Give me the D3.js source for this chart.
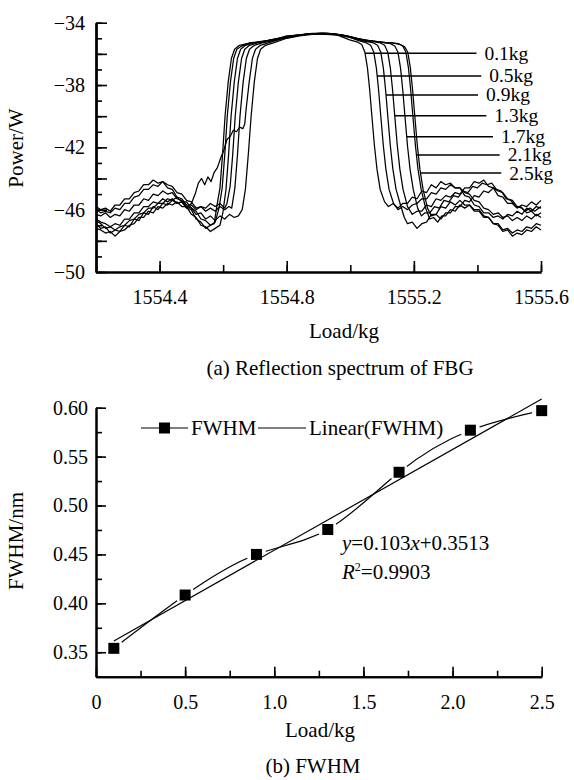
<!DOCTYPE html>
<html>
<head>
<meta charset="utf-8">
<script src="https://cdn.jsdelivr.net/npm/d3@7"></script>
<style>
    body { margin: 0; background: #fff; }
    svg text { font-family: "Liberation Serif", "Times New Roman", serif; fill: #000; }
</style>
</head>
<body>
<svg id="chart" width="574" height="780"></svg>
<script>
// ---- data: (a) reflection spectra, [wavelength nm, power] ----
const loads = ["0.1kg", "0.5kg", "0.9kg", "1.3kg", "1.7kg", "2.1kg", "2.5kg"];

const spec01 = [[1554.200,-46.9],[1554.215,-47.2],[1554.230,-47.1],[1554.245,-47.5],[1554.260,-47.3],[1554.275,-47.4],[1554.290,-47.0],[1554.305,-47.1],[1554.320,-46.6],[1554.335,-46.7],[1554.350,-46.2],[1554.365,-46.3],[1554.380,-45.8],[1554.395,-46.0],[1554.410,-45.6],[1554.425,-45.7],[1554.440,-45.4],[1554.455,-45.6],[1554.470,-45.5],[1554.485,-45.9],[1554.500,-46.0],[1554.515,-46.6],[1554.530,-46.8],[1554.545,-47.2],[1554.560,-47.0],[1554.572,-46.9],
    [1554.580,-45.8],[1554.590,-44.6],[1554.598,-42.5],[1554.606,-40.0],[1554.616,-37.8],[1554.626,-36.3],[1554.636,-35.7],[1554.651,-35.45],[1554.676,-35.35],
    [1554.72,-35.25],[1554.76,-35.05],[1554.80,-34.9],[1554.84,-34.78],[1554.88,-34.7],[1554.92,-34.72],[1554.96,-34.8],
    [1554.998,-35.1],[1555.023,-35.25],[1555.036,-35.4],[1555.046,-35.9],[1555.054,-36.9],[1555.061,-38.3],[1555.068,-40.0],[1555.076,-41.9],[1555.084,-43.4],[1555.094,-44.7],[1555.108,-45.5],
    [1555.120,-45.8],[1555.135,-45.6],[1555.150,-45.9],[1555.165,-45.6],[1555.180,-45.6],[1555.195,-45.2],[1555.210,-45.3],[1555.225,-44.8],[1555.240,-44.9],[1555.255,-44.4],[1555.270,-44.6],[1555.285,-44.2],[1555.300,-44.4],[1555.315,-44.3],[1555.330,-44.6],[1555.345,-44.6],[1555.360,-45.1],[1555.375,-45.2],[1555.390,-45.7],[1555.405,-45.8],[1555.420,-46.2],[1555.435,-46.2],[1555.450,-46.5],[1555.465,-46.4],[1555.480,-46.6],[1555.495,-46.3],[1555.510,-46.4],[1555.525,-46.1],[1555.540,-46.3],[1555.555,-45.9],[1555.570,-46.1],[1555.585,-45.8],[1555.600,-45.9]];

const spec05 = [[1554.200,-46.7],[1554.215,-46.9],[1554.230,-47.2],[1554.245,-47.1],[1554.260,-47.3],[1554.275,-47.1],[1554.290,-47.0],[1554.305,-46.7],[1554.320,-46.6],[1554.335,-46.3],[1554.350,-46.2],[1554.365,-45.9],[1554.380,-45.9],[1554.395,-45.6],[1554.410,-45.6],[1554.425,-45.3],[1554.440,-45.4],[1554.455,-45.2],[1554.470,-45.5],[1554.485,-45.5],[1554.500,-45.9],[1554.515,-46.1],[1554.530,-46.6],[1554.545,-46.7],[1554.560,-47.0],[1554.575,-46.8],
    [1554.587,-45.9],[1554.597,-44.6],[1554.605,-42.5],[1554.613,-40.0],[1554.623,-37.8],[1554.633,-36.3],[1554.643,-35.7],[1554.658,-35.5],[1554.683,-35.3],
    [1554.72,-35.2],[1554.76,-35.1],[1554.80,-34.85],[1554.84,-34.8],[1554.88,-34.68],[1554.92,-34.75],[1554.96,-34.78],[1555.00,-34.95],
    [1555.026,-35.15],[1555.051,-35.3],[1555.064,-35.45],[1555.074,-35.9],[1555.082,-36.9],[1555.089,-38.3],[1555.096,-40.0],[1555.104,-41.9],[1555.112,-43.4],[1555.122,-44.7],[1555.136,-45.6],
    [1555.150,-46.0],[1555.165,-45.8],[1555.180,-46.0],[1555.195,-45.7],[1555.210,-45.6],[1555.225,-45.3],[1555.240,-45.3],[1555.255,-44.9],[1555.270,-45.0],[1555.285,-44.6],[1555.300,-44.7],[1555.315,-44.4],[1555.330,-44.6],[1555.345,-44.6],[1555.360,-44.9],[1555.375,-45.0],[1555.390,-45.4],[1555.405,-45.5],[1555.420,-45.9],[1555.435,-46.0],[1555.450,-46.3],[1555.465,-46.2],[1555.480,-46.5],[1555.495,-46.4],[1555.510,-46.7],[1555.525,-46.5],[1555.540,-46.7],[1555.555,-46.4],[1555.570,-46.6],[1555.585,-46.3],[1555.600,-46.5]];

const spec09 = [[1554.200,-47.2],[1554.215,-47.3],[1554.230,-47.5],[1554.245,-47.4],[1554.260,-47.7],[1554.275,-47.4],[1554.290,-47.3],[1554.305,-47.0],[1554.320,-46.9],[1554.335,-46.5],[1554.350,-46.5],[1554.365,-46.1],[1554.380,-46.2],[1554.395,-45.8],[1554.410,-45.9],[1554.425,-45.6],[1554.440,-45.7],[1554.455,-45.5],[1554.470,-45.8],[1554.485,-45.8],[1554.500,-46.3],[1554.515,-46.5],[1554.530,-47.0],[1554.545,-47.1],[1554.560,-47.4],[1554.575,-47.2],[1554.590,-47.0],
    [1554.599,-46.2],[1554.609,-44.7],[1554.617,-42.5],[1554.625,-40.0],[1554.635,-37.8],[1554.645,-36.3],[1554.655,-35.7],[1554.670,-35.45],[1554.695,-35.3],
    [1554.74,-35.15],[1554.78,-35.0],[1554.82,-34.85],[1554.86,-34.75],[1554.90,-34.72],[1554.94,-34.7],[1554.98,-34.85],[1555.02,-35.05],
    [1555.048,-35.2],[1555.073,-35.3],[1555.086,-35.45],[1555.096,-35.9],[1555.104,-36.9],[1555.111,-38.3],[1555.118,-40.0],[1555.126,-41.9],[1555.134,-43.4],[1555.144,-44.7],[1555.158,-45.7],
    [1555.170,-46.5],[1555.180,-46.9],[1555.195,-46.8],[1555.210,-47.2],[1555.225,-46.9],[1555.240,-46.8],[1555.255,-46.3],[1555.270,-46.3],[1555.285,-45.8],[1555.300,-45.9],[1555.315,-45.5],[1555.330,-45.7],[1555.345,-45.4],[1555.360,-45.7],[1555.375,-45.7],[1555.390,-46.1],[1555.405,-46.1],[1555.420,-46.5],[1555.435,-46.5],[1555.450,-46.9],[1555.465,-46.9],[1555.480,-47.3],[1555.495,-47.2],[1555.510,-47.5],[1555.525,-47.3],[1555.540,-47.4],[1555.555,-47.1],[1555.570,-47.2],[1555.585,-46.9],[1555.600,-47.0]];

const spec13 = [[1554.200,-45.8],[1554.215,-46.0],[1554.230,-45.9],[1554.245,-46.1],[1554.260,-45.7],[1554.275,-45.7],[1554.290,-45.3],[1554.305,-45.3],[1554.320,-44.9],[1554.335,-44.8],[1554.350,-44.4],[1554.365,-44.4],[1554.380,-44.1],[1554.395,-44.3],[1554.410,-44.2],[1554.425,-44.6],[1554.440,-44.7],[1554.455,-45.2],[1554.470,-45.3],[1554.485,-45.7],[1554.500,-45.7],[1554.515,-46.0],[1554.530,-45.8],[1554.545,-45.9],[1554.560,-45.6],[1554.575,-45.8],[1554.590,-45.6],[1554.605,-45.9],
    [1554.612,-45.6],[1554.622,-44.5],[1554.630,-42.5],[1554.638,-40.0],[1554.648,-37.8],[1554.658,-36.3],[1554.668,-35.7],[1554.683,-35.45],[1554.708,-35.3],
    [1554.75,-35.1],[1554.79,-34.95],[1554.83,-34.8],[1554.87,-34.72],[1554.91,-34.65],[1554.95,-34.72],[1554.99,-34.85],[1555.03,-35.1],
    [1555.070,-35.2],[1555.095,-35.3],[1555.108,-35.45],[1555.118,-35.9],[1555.126,-36.9],[1555.133,-38.3],[1555.140,-40.0],[1555.148,-41.9],[1555.156,-43.4],[1555.166,-44.7],[1555.180,-45.8],
    [1555.195,-46.3],[1555.210,-46.1],[1555.225,-46.1],[1555.240,-45.7],[1555.255,-45.8],[1555.270,-45.3],[1555.285,-45.4],[1555.300,-45.1],[1555.315,-45.2],[1555.330,-44.9],[1555.345,-45.0],[1555.360,-44.6],[1555.375,-44.6],[1555.390,-44.2],[1555.405,-44.3],[1555.420,-44.1],[1555.435,-44.5],[1555.450,-44.6],[1555.465,-45.1],[1555.480,-45.2],[1555.495,-45.6],[1555.510,-45.6],[1555.525,-45.9],[1555.540,-45.7],[1555.555,-45.8],[1555.570,-45.5],[1555.585,-45.7],[1555.600,-45.4]];

const spec17 = [[1554.200,-46.0],[1554.215,-46.2],[1554.230,-46.1],[1554.245,-46.2],[1554.260,-45.9],[1554.275,-46.0],[1554.290,-45.6],[1554.305,-45.6],[1554.320,-45.2],[1554.335,-45.1],[1554.350,-44.7],[1554.365,-44.7],[1554.380,-44.4],[1554.395,-44.5],[1554.410,-44.2],[1554.425,-44.4],[1554.440,-44.5],[1554.455,-44.9],[1554.470,-45.0],[1554.485,-45.4],[1554.500,-45.5],[1554.515,-45.9],[1554.530,-45.8],[1554.545,-46.1],[1554.560,-45.9],[1554.575,-46.1],[1554.590,-45.8],[1554.605,-46.0],[1554.618,-45.8],
    [1554.627,-45.9],[1554.637,-44.6],[1554.645,-42.5],[1554.653,-40.0],[1554.663,-37.8],[1554.673,-36.3],[1554.683,-35.7],[1554.698,-35.45],[1554.723,-35.3],
    [1554.77,-35.1],[1554.81,-34.9],[1554.85,-34.78],[1554.89,-34.7],[1554.93,-34.68],[1554.97,-34.78],[1555.01,-34.95],[1555.05,-35.15],
    [1555.102,-35.25],[1555.127,-35.35],[1555.140,-35.5],[1555.150,-35.9],[1555.158,-36.9],[1555.165,-38.3],[1555.172,-40.0],[1555.180,-41.9],[1555.188,-43.4],[1555.198,-44.7],[1555.212,-45.9],
    [1555.224,-46.4],[1555.235,-46.2],[1555.250,-46.2],[1555.265,-45.8],[1555.280,-45.9],[1555.295,-45.4],[1555.310,-45.5],[1555.325,-45.1],[1555.340,-45.2],[1555.355,-44.8],[1555.370,-44.9],[1555.385,-44.5],[1555.400,-44.6],[1555.415,-44.3],[1555.430,-44.4],[1555.445,-44.3],[1555.460,-44.7],[1555.475,-44.8],[1555.490,-45.3],[1555.505,-45.4],[1555.520,-45.8],[1555.535,-45.8],[1555.550,-46.1],[1555.565,-45.9],[1555.580,-46.1],[1555.600,-45.8]];

const spec21 = [[1554.200,-46.6],[1554.215,-46.8],[1554.230,-46.9],[1554.245,-47.1],[1554.260,-46.9],[1554.275,-47.0],[1554.290,-46.6],[1554.305,-46.6],[1554.320,-46.2],[1554.335,-46.2],[1554.350,-45.8],[1554.365,-45.8],[1554.380,-45.5],[1554.395,-45.6],[1554.410,-45.3],[1554.425,-45.5],[1554.440,-45.3],[1554.455,-45.6],[1554.470,-45.5],[1554.485,-45.9],[1554.500,-45.6],[1554.512,-45.0],[1554.522,-44.3],[1554.532,-44.0],[1554.542,-44.4],[1554.552,-43.9],[1554.562,-44.2],[1554.572,-43.6],[1554.582,-43.3],[1554.592,-42.7],[1554.602,-42.2],[1554.612,-41.5],[1554.622,-41.3],[1554.632,-40.9],[1554.642,-41.0],[1554.652,-40.7],[1554.662,-40.8],
    [1554.668,-40.5],[1554.672,-39.6],[1554.682,-37.8],[1554.692,-36.3],[1554.702,-35.7],[1554.717,-35.45],[1554.742,-35.3],
    [1554.78,-35.05],[1554.82,-34.9],[1554.86,-34.75],[1554.90,-34.7],[1554.94,-34.72],[1554.98,-34.82],[1555.02,-35.0],[1555.06,-35.15],[1555.09,-35.25],
    [1555.127,-35.3],[1555.152,-35.35],[1555.165,-35.5],[1555.175,-35.9],[1555.183,-36.9],[1555.190,-38.3],[1555.197,-40.0],[1555.205,-41.9],[1555.213,-43.4],[1555.223,-44.7],[1555.237,-45.9],
    [1555.250,-46.6],[1555.262,-46.5],[1555.275,-46.8],[1555.288,-46.4],[1555.300,-46.4],[1555.315,-46.0],[1555.330,-46.1],[1555.345,-45.7],[1555.360,-45.9],[1555.375,-45.7],[1555.390,-46.0],[1555.405,-46.0],[1555.420,-46.4],[1555.435,-46.5],[1555.450,-46.9],[1555.465,-47.0],[1555.480,-47.4],[1555.495,-47.3],[1555.510,-47.7],[1555.525,-47.5],[1555.540,-47.6],[1555.555,-47.3],[1555.570,-47.4],[1555.585,-47.1],[1555.600,-47.3]];

const spec25 = [[1554.200,-46.3],[1554.215,-46.4],[1554.230,-46.2],[1554.245,-46.5],[1554.260,-46.3],[1554.275,-46.4],[1554.290,-46.0],[1554.305,-46.1],[1554.320,-45.7],[1554.335,-45.7],[1554.350,-45.3],[1554.365,-45.4],[1554.380,-45.0],[1554.395,-45.1],[1554.410,-44.8],[1554.425,-45.0],[1554.440,-44.9],[1554.455,-45.3],[1554.470,-45.4],[1554.485,-45.8],[1554.500,-45.9],[1554.515,-46.3],[1554.530,-46.2],[1554.545,-46.6],[1554.560,-46.4],[1554.575,-46.7],[1554.590,-46.4],[1554.605,-46.6],[1554.620,-46.3],[1554.635,-46.5],[1554.648,-46.4],
    [1554.660,-46.0],[1554.670,-44.7],[1554.679,-42.5],[1554.688,-40.0],[1554.698,-37.8],[1554.708,-36.3],[1554.718,-35.7],[1554.733,-35.45],[1554.758,-35.3],
    [1554.80,-35.0],[1554.84,-34.85],[1554.88,-34.75],[1554.92,-34.68],[1554.96,-34.75],[1555.00,-34.9],[1555.04,-35.1],[1555.08,-35.2],[1555.11,-35.3],
    [1555.133,-35.3],[1555.158,-35.4],[1555.171,-35.55],[1555.181,-35.9],[1555.189,-36.9],[1555.196,-38.3],[1555.203,-40.0],[1555.211,-41.9],[1555.219,-43.4],[1555.229,-44.7],[1555.243,-45.9],
    [1555.255,-46.4],[1555.270,-46.3],[1555.285,-46.6],[1555.300,-46.2],[1555.315,-46.2],[1555.330,-45.8],[1555.345,-45.8],[1555.360,-45.4],[1555.375,-45.5],[1555.390,-45.1],[1555.405,-45.2],[1555.420,-44.8],[1555.435,-44.9],[1555.450,-44.6],[1555.465,-44.8],[1555.480,-44.9],[1555.495,-45.3],[1555.510,-45.4],[1555.525,-45.8],[1555.540,-45.9],[1555.555,-46.2],[1555.570,-46.1],[1555.585,-46.4],[1555.600,-46.2]];

const spectra = [spec01, spec05, spec09, spec13, spec17, spec21, spec25];

// leader lines: power level where each label line meets its curve, and where the line ends
const labelPower = [-35.96, -37.42, -38.64, -39.97, -41.32, -42.49, -43.65];
const labelLineEnd = [1555.397, 1555.412, 1555.402, 1555.428, 1555.449, 1555.470, 1555.475];

const wlTicks = [1554.4, 1554.8, 1555.2, 1555.6];
const powerTicks = [-50, -46, -42, -38, -34];

// ---- data: (b) FWHM vs load ----
const fwhmLoad = [0.1, 0.5, 0.9, 1.3, 1.7, 2.1, 2.5];
const fwhmValue = [0.354, 0.4085, 0.450, 0.4755, 0.534, 0.577, 0.597];
const fitSlope = 0.103;
const fitIntercept = 0.3513;
const fitR2 = 0.9903;
const loadTicks = [0, 0.5, 1.0, 1.5, 2.0, 2.5];
const fwhmTicks = [0.35, 0.40, 0.45, 0.50, 0.55, 0.60];

const FONT = '"Liberation Serif", "Times New Roman", serif';
const svg = d3.select("#chart");

// styles an axis group: thick domain line, serif labels
function styleAxis(g, fontSize) {
    g.attr("font-family", FONT).attr("font-size", fontSize);
    g.select(".domain").attr("stroke", "#000").attr("stroke-width", 2);
    g.selectAll(".tick line").attr("stroke", "#000").attr("stroke-width", 1.6);
    g.selectAll(".tick text").attr("fill", "#000");
}

// =====================================================================
// (a) Reflection spectrum
// =====================================================================
const xTop = d3.scaleLinear().domain([1554.2, 1555.6]).range([96, 541]);
const yTop = d3.scaleLinear().domain([-50, -34]).range([272, 22.7]);

const topG = svg.append("g");

// x axis: minor every 0.2, major every 0.4
topG.append("g")
    .attr("transform", `translate(0,${yTop(-50)})`)
    .call(d3.axisBottom(xTop).tickValues(d3.range(1554.2, 1555.61, 0.2))
        .tickSize(-7).tickSizeOuter(0).tickFormat(""))
    .call(g => styleAxis(g, 20));
topG.append("g")
    .attr("transform", `translate(0,${yTop(-50)})`)
    .call(d3.axisBottom(xTop).tickValues(wlTicks)
        .tickSize(-11).tickSizeOuter(0).tickPadding(18).tickFormat(d3.format(".1f")))
    .call(g => styleAxis(g, 20));

// y axis: minor every 1, major every 2, labels every 4
topG.append("g")
    .attr("transform", `translate(${xTop(1554.2)},0)`)
    .call(d3.axisLeft(yTop).tickValues(d3.range(-50, -33, 1))
        .tickSize(-6).tickSizeOuter(0).tickFormat(""))
    .call(g => styleAxis(g, 20));
topG.append("g")
    .attr("transform", `translate(${xTop(1554.2)},0)`)
    .call(d3.axisLeft(yTop).tickValues(d3.range(-50, -33, 2))
        .tickSize(-11).tickSizeOuter(0).tickFormat(""))
    .call(g => styleAxis(g, 20));
topG.append("g")
    .attr("transform", `translate(${xTop(1554.2)},0)`)
    .call(d3.axisLeft(yTop).tickValues(powerTicks)
        .tickSize(0).tickSizeOuter(0).tickPadding(11).tickFormat(d3.format("d")))
    .call(g => styleAxis(g, 20));

const specLine = d3.line()
    .x(d => xTop(d[0]))
    .y(d => yTop(d[1]));

topG.append("g")
    .selectAll("path")
    .data(spectra)
    .enter()
    .append("path")
    .attr("fill", "none")
    .attr("stroke", "#000")
    .attr("stroke-width", 1.25)
    .attr("stroke-linejoin", "round")
    .attr("d", specLine);

// where a curve's falling (long-wavelength) edge crosses a power level
function rightEdgeAt(points, level) {
    for (let i = 0; i < points.length - 1; i++) {
        const a = points[i], b = points[i + 1];
        if (a[0] > 1554.95 && a[1] >= level && b[1] < level) {
            return a[0] + (a[1] - level) / (a[1] - b[1]) * (b[0] - a[0]);
        }
    }
    return points[points.length - 1][0];
}

const labels = topG.append("g");
loads.forEach((name, i) => {
    const y = yTop(labelPower[i]);
    const x0 = xTop(rightEdgeAt(spectra[i], labelPower[i]));
    const x1 = xTop(labelLineEnd[i]);
    labels.append("line")
        .attr("x1", x0).attr("x2", x1)
        .attr("y1", y).attr("y2", y)
        .attr("stroke", "#000").attr("stroke-width", 1.5);
    labels.append("text")
        .attr("x", x1 + 8).attr("y", y + 6.5)
        .attr("font-size", 19.5)
        .text(name);
});

topG.append("text")
    .attr("transform", "translate(23,148) rotate(-90)")
    .attr("text-anchor", "middle").attr("font-size", 21)
    .text("Power/W");
topG.append("text")
    .attr("x", 344).attr("y", 338)
    .attr("text-anchor", "middle").attr("font-size", 21)
    .text("Load/kg");
topG.append("text")
    .attr("x", 340).attr("y", 375)
    .attr("text-anchor", "middle").attr("font-size", 21)
    .text("(a) Reflection spectrum of FBG");

// =====================================================================
// (b) FWHM
// =====================================================================
const xBot = d3.scaleLinear().domain([0, 2.5]).range([96, 541.7]);
const yBot = d3.scaleLinear().domain([0.325, 0.60]).range([676.7, 407.7]);

const botG = svg.append("g");

botG.append("g")
    .attr("transform", `translate(0,${yBot(0.325)})`)
    .call(d3.axisBottom(xBot).tickValues(d3.range(0, 2.51, 0.25))
        .tickSize(-6).tickSizeOuter(0).tickFormat(""))
    .call(g => styleAxis(g, 20));
botG.append("g")
    .attr("transform", `translate(0,${yBot(0.325)})`)
    .call(d3.axisBottom(xBot).tickValues(loadTicks)
        .tickSize(-10).tickSizeOuter(0).tickPadding(18)
        .tickFormat(d => d === 0 ? "0" : d3.format(".1f")(d)))
    .call(g => styleAxis(g, 20));

botG.append("g")
    .attr("transform", `translate(${xBot(0)},0)`)
    .call(d3.axisLeft(yBot).tickValues(d3.range(0.325, 0.601, 0.025))
        .tickSize(-6).tickSizeOuter(0).tickFormat(""))
    .call(g => styleAxis(g, 20));
botG.append("g")
    .attr("transform", `translate(${xBot(0)},0)`)
    .call(d3.axisLeft(yBot).tickValues(fwhmTicks)
        .tickSize(-10).tickSizeOuter(0).tickPadding(8).tickFormat(d3.format(".2f")))
    .call(g => styleAxis(g, 20));

const fwhmPoints = fwhmLoad.map((x, i) => ({ x: x, y: fwhmValue[i] }));

// linear fit line over the measured range
const fitEnds = [fwhmLoad[0], fwhmLoad[fwhmLoad.length - 1]]
    .map(x => ({ x: x, y: fitSlope * x + fitIntercept }));
botG.append("path")
    .datum(fitEnds)
    .attr("fill", "none").attr("stroke", "#000").attr("stroke-width", 1.2)
    .attr("d", d3.line().x(d => xBot(d.x)).y(d => yBot(d.y)));

// smoothed data line, broken around each marker
const mask = svg.append("defs").append("mask").attr("id", "gapMask");
mask.append("rect").attr("x", 0).attr("y", 0).attr("width", 574).attr("height", 780).attr("fill", "#fff");
mask.selectAll("circle")
    .data(fwhmPoints)
    .enter()
    .append("circle")
    .attr("cx", d => xBot(d.x)).attr("cy", d => yBot(d.y))
    .attr("r", 10).attr("fill", "#000");

botG.append("path")
    .datum(fwhmPoints)
    .attr("fill", "none").attr("stroke", "#000").attr("stroke-width", 1.2)
    .attr("mask", "url(#gapMask)")
    .attr("d", d3.line().curve(d3.curveNatural).x(d => xBot(d.x)).y(d => yBot(d.y)));

botG.selectAll("rect.marker")
    .data(fwhmPoints)
    .enter()
    .append("rect")
    .attr("class", "marker")
    .attr("x", d => xBot(d.x) - 5.5).attr("y", d => yBot(d.y) - 5.5)
    .attr("width", 11).attr("height", 11)
    .attr("fill", "#000");

// legend
const legend = botG.append("g");
legend.append("line").attr("x1", 141).attr("x2", 188).attr("y1", 428).attr("y2", 428)
    .attr("stroke", "#000").attr("stroke-width", 1.2);
legend.append("rect").attr("x", 159).attr("y", 422.5).attr("width", 11).attr("height", 11).attr("fill", "#000");
legend.append("text").attr("x", 191).attr("y", 435).attr("font-size", 21).text("FWHM");
legend.append("line").attr("x1", 258).attr("x2", 306).attr("y1", 428).attr("y2", 428)
    .attr("stroke", "#000").attr("stroke-width", 1.2);
legend.append("text").attr("x", 309).attr("y", 435).attr("font-size", 21).text("Linear(FWHM)");

// fit equation
const eq = botG.append("text").attr("x", 342).attr("y", 550).attr("font-size", 21);
eq.append("tspan").attr("font-style", "italic").text("y");
eq.append("tspan").text("=" + fitSlope);
eq.append("tspan").attr("font-style", "italic").text("x");
eq.append("tspan").text("+" + fitIntercept);

const r2 = botG.append("text").attr("x", 342).attr("y", 579).attr("font-size", 21);
r2.append("tspan").attr("font-style", "italic").text("R");
r2.append("tspan").attr("font-size", 12).attr("dy", -8).text("2");
r2.append("tspan").attr("dy", 8).text("=" + fitR2);

botG.append("text")
    .attr("transform", "translate(23,541) rotate(-90)")
    .attr("text-anchor", "middle").attr("font-size", 21)
    .text("FWHM/nm");
botG.append("text")
    .attr("x", 320).attr("y", 737)
    .attr("text-anchor", "middle").attr("font-size", 21)
    .text("Load/kg");
botG.append("text")
    .attr("x", 313).attr("y", 773)
    .attr("text-anchor", "middle").attr("font-size", 21)
    .text("(b) FWHM");
</script>
</body>
</html>
